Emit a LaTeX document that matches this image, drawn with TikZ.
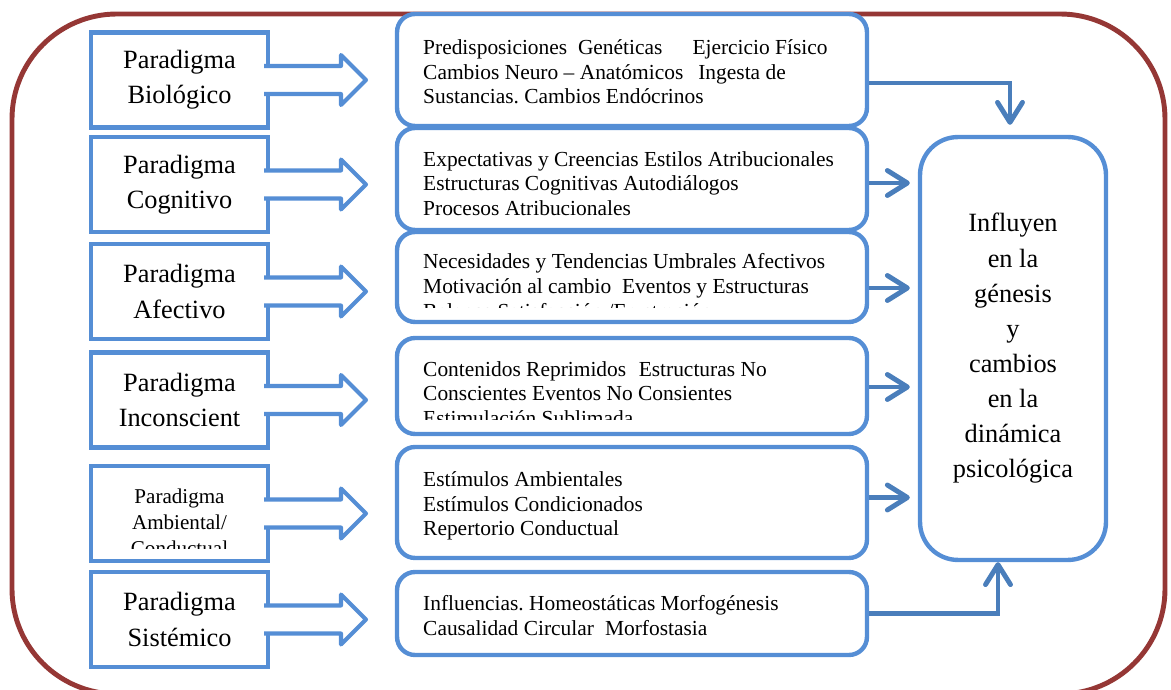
\documentclass[tikz,border=0pt]{standalone}
\usepackage{fontspec}
\setmainfont{Liberation Serif}
\usetikzlibrary{arrows.meta,calc}
\definecolor{framered}{RGB}{149,55,53}
\definecolor{boxblue}{RGB}{85,142,213}
\definecolor{arrblue}{RGB}{74,126,187}
\newcommand{\bigtxt}{\fontsize{15}{20}\selectfont}
\newcommand{\smalltxt}{\fontsize{12.2}{14.2}\selectfont}
\frenchspacing

\begin{document}
\begin{tikzpicture}[x=0.02cm,y=0.02cm,
  pbox/.style={draw=boxblue,line width=2.3pt,fill=white,minimum width=3.54cm,minimum height=1.9cm,inner sep=0pt,align=center,font=\bigtxt},
  mbox/.style={draw=boxblue,line width=2.5pt,fill=white,rounded corners=0.36cm,minimum width=9.4cm,inner sep=0pt},
  mtext/.style={anchor=north west,inner sep=0pt,align=left,font=\smalltxt},
  bigarrow/.style={draw=boxblue,line width=2.3pt,fill=white,line join=round},
  conn/.style={draw=arrblue,line width=2.8pt,-{Straight Barb[length=0.4cm,width=0.5cm,round]}}]
\clip (0,0) rectangle (1171,690);
\draw[framered,line width=2.8pt,rounded corners=2.1cm] (12,676) rectangle (1165,-4);

\foreach \n/\y/\h in {1/620/2.24,2/511/2.04,3/413/1.8,4/304/1.92,5/187.5/2.22,6/76.5/1.66}
  \node[mbox,minimum height=\h cm] (m\n) at (632,\y) {};

\node[draw=boxblue,line width=2.5pt,fill=white,rounded corners=0.76cm,minimum width=3.72cm,minimum height=8.46cm,align=center,font=\bigtxt] (r) at (1013,341.5)
  {Influyen\\en la\\génesis\\y\\cambios\\en la\\dinámica\\psicológica};

\foreach \n/\y/\t in {1/610/{Paradigma\\Biológico},2/505.5/{Paradigma\\Cognitivo},3/398.5/{Paradigma\\Afectivo},4/290/{Paradigma\\Inconscient},5/176.5/{},6/70.5/{Paradigma\\Sistémico}}
  \node[pbox] (p\n) at (179.5,\y) {\t};

\foreach \n in {1,...,6}
  \draw[bigarrow] ($(p\n.east)+(-6,14)$) -- ++(77,0) -- ++(0,11) -- ++(25,-25) -- ++(-25,-25) -- ++(0,11) -- ++(-77,0);

\begin{scope}
\clip (p5.north west) rectangle ($(p5.south east)+(0,15)$);
\node[align=center,font=\fontsize{12}{14.7}\selectfont] (t5) at ($(p5.center)+(0,-9)$) {Paradigma\\Ambiental/\\Conductual};
\end{scope}

\node[mtext] (s1) at ($(m1.north west)+(28,-27)$) {Predisposiciones~ Genéticas\hspace{0.6cm}Ejercicio Físico\\Cambios Neuro -- Anatómicos\hspace{0.3cm}Ingesta de\\Sustancias. Cambios Endócrinos};
\node[mtext] (s2) at ($(m2.north west)+(28,-25)$) {Expectativas y Creencias Estilos Atribucionales\\Estructuras Cognitivas Autodiálogos\\Procesos Atribucionales};
\begin{scope}
\clip (m3.north west) rectangle ($(m3.south east)+(0,17)$);
\node[mtext] (s3) at ($(m3.north west)+(28,-23)$) {Necesidades y Tendencias Umbrales Afectivos\\Motivación al cambio~ Eventos y Estructuras\\Balance Satisfacción /Frustración};
\end{scope}
\begin{scope}
\clip (m4.north west) rectangle ($(m4.south east)+(0,17)$);
\node[mtext] (s4) at ($(m4.north west)+(28,-25)$) {Contenidos Reprimidos\hspace{0.25cm}Estructuras No\\Conscientes Eventos No Consientes\\Estimulación Sublimada};
\end{scope}
\node[mtext] (s5) at ($(m5.north west)+(28,-26)$) {Estímulos Ambientales\\Estímulos Condicionados\\Repertorio Conductual};
\node[mtext] (s6) at ($(m6.north west)+(28,-25)$) {Influencias. Homeostáticas Morfogénesis\\Causalidad Circular\hspace{0.22cm}Morfostasia};

\draw[conn,shorten >=0.2cm] ([yshift=-0.26cm]m1.east) -| ([xshift=-0.06cm]r.north);
\foreach \n/\s in {2/-4,3/-11,4/-1,5/5} {
  \coordinate (a\n) at ($(m\n.east)+(0,\s)$);
  \draw[conn,shorten >=0.16cm] (a\n) -- (a\n -| r.west);
}
\draw[conn] (m6.east) -| ([xshift=-0.3cm]r.south);
\end{tikzpicture}
\end{document}
